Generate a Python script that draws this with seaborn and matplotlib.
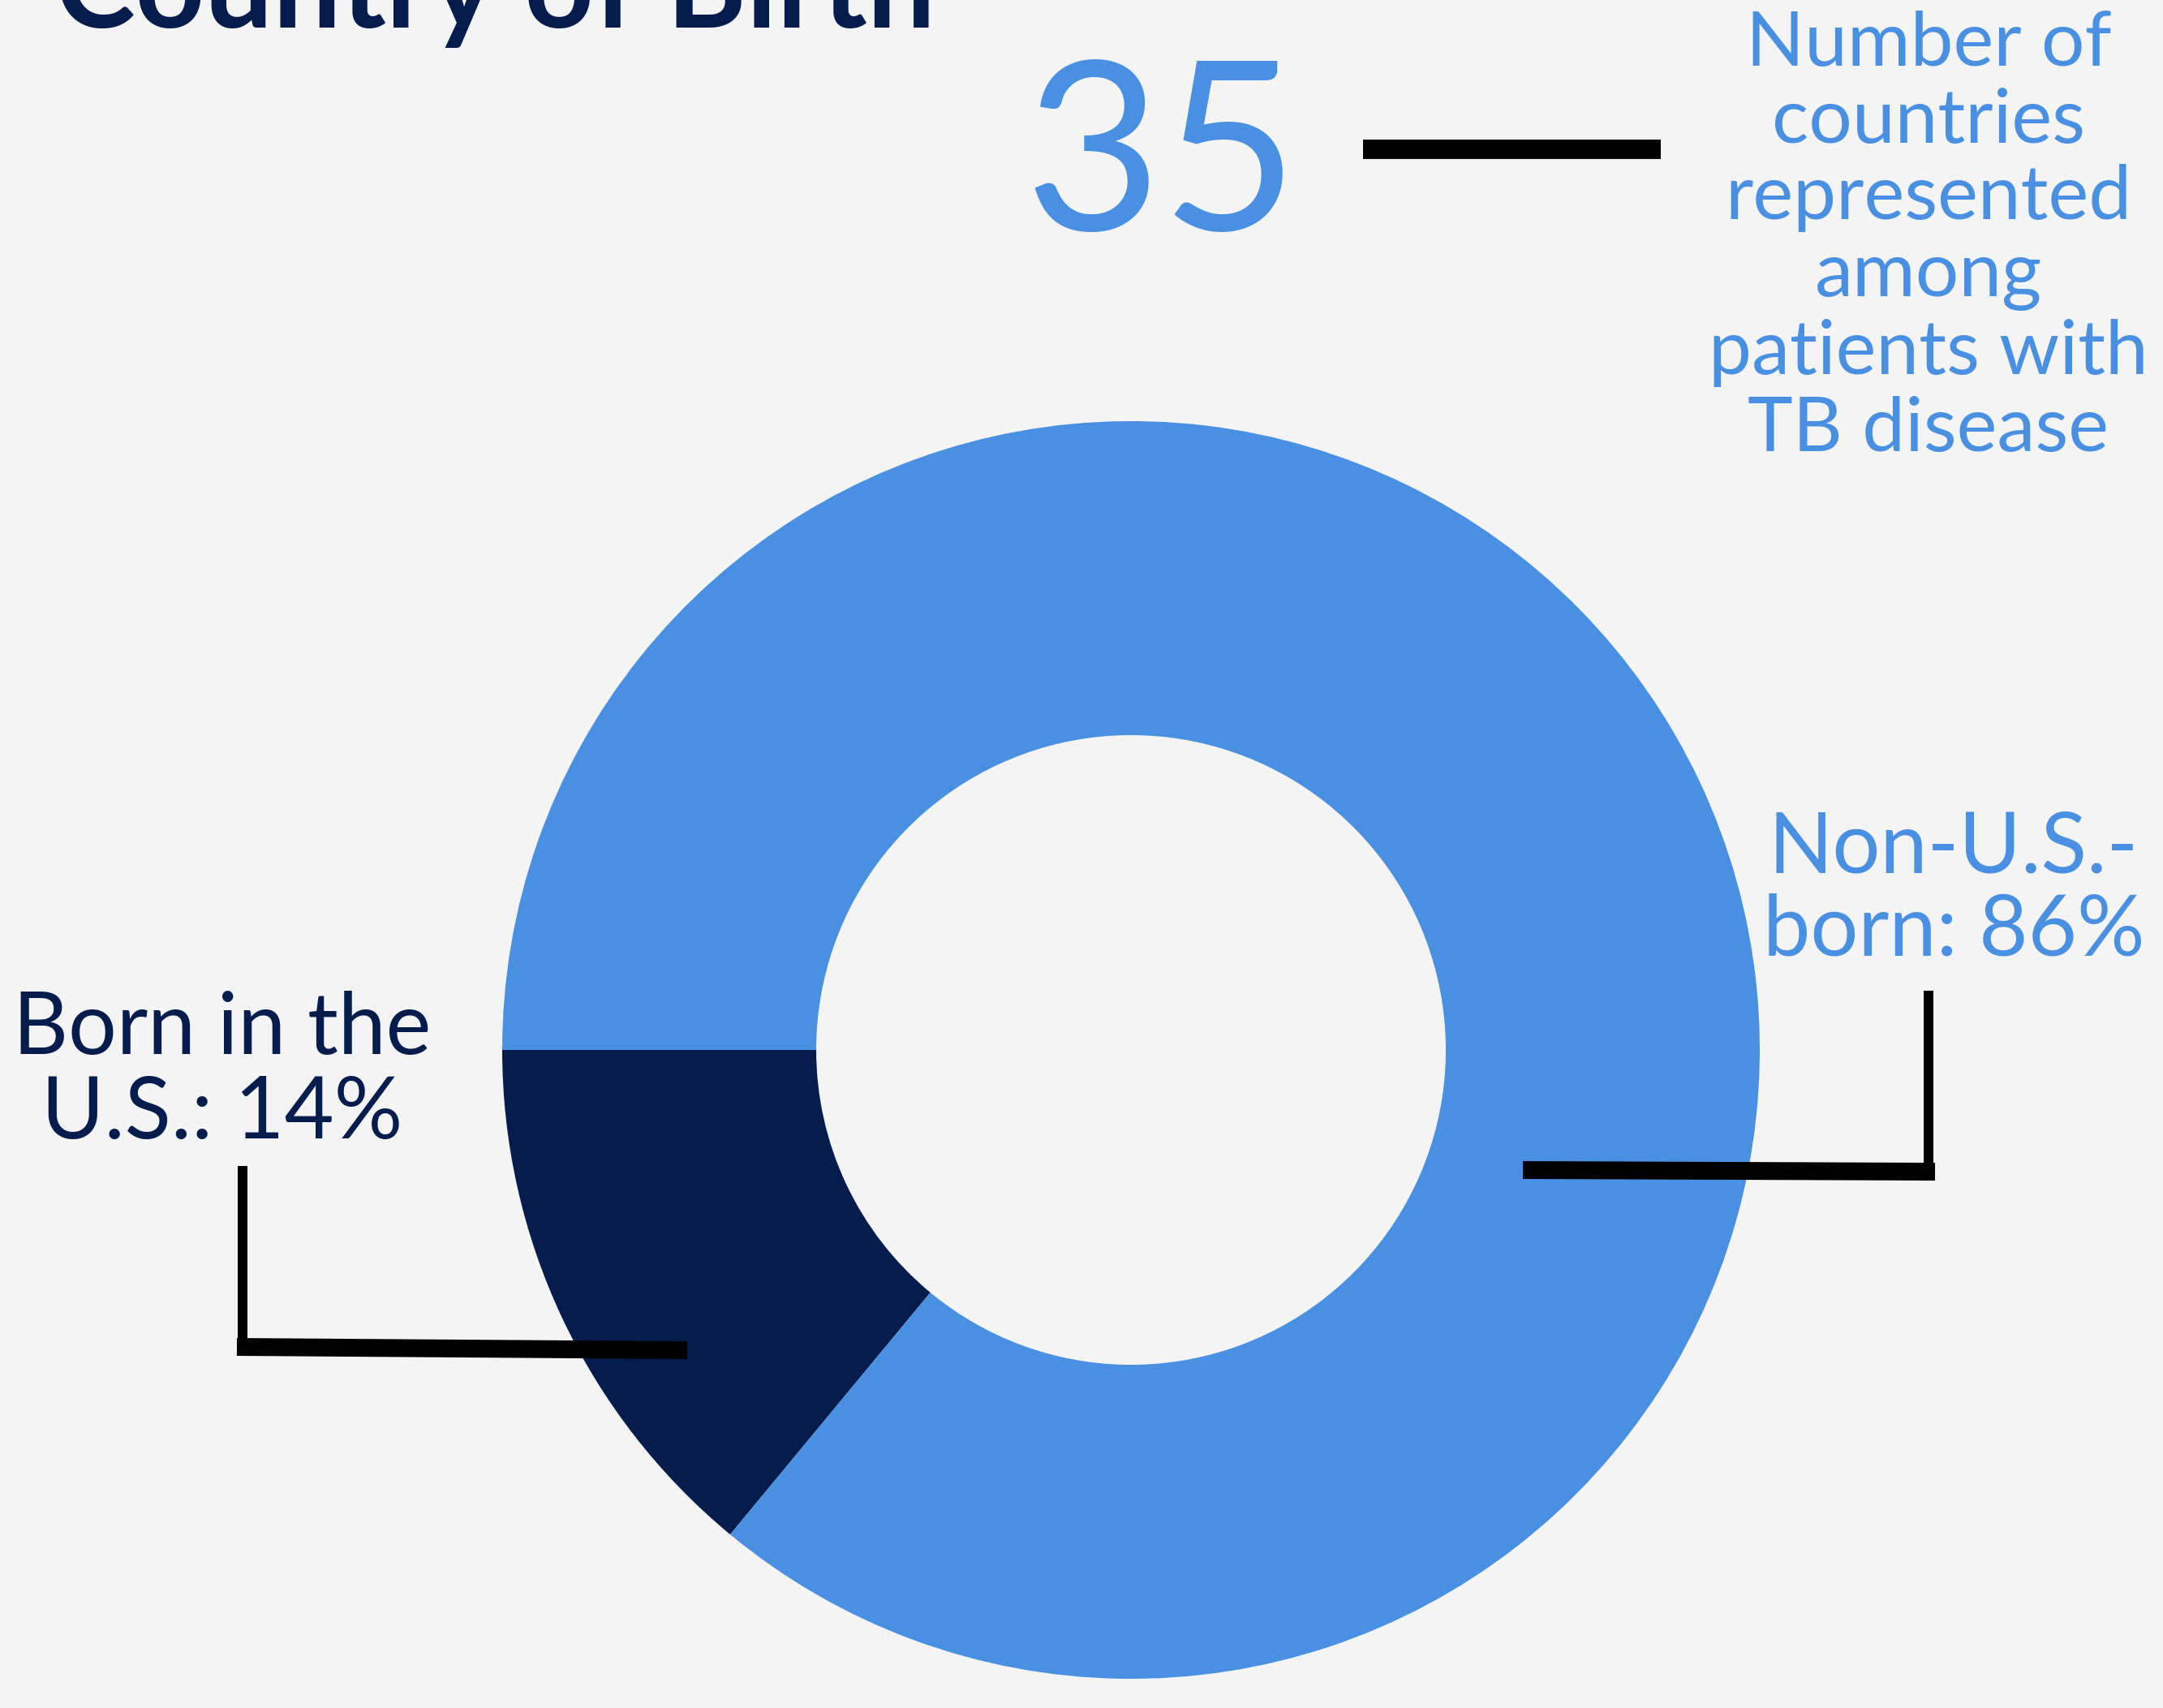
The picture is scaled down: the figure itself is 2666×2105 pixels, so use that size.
import matplotlib
matplotlib.use('Agg')
import matplotlib.pyplot as plt
import seaborn as sns

# Data
labels = ['Born in the\nU.S.: 14%', 'Non-U.S.-\nborn: 86%']
shares = [14, 86]
n_countries = 35
caption = 'Number of\ncountries\nrepresented\namong\npatients with\nTB disease'
title = 'Country of Birth'

BLUE = '#4A90E2'
NAVY = '#051C4C'
BG = '#F4F4F4'

sns.set_theme(style='white')
plt.rcParams['font.family'] = ['Lato', 'DejaVu Sans']

W, H = 2666, 2105
fig = plt.figure(figsize=(W / 200, H / 200), dpi=200, facecolor=BG)
ax = fig.add_axes([0, 0, 1, 1])
ax.set_facecolor(BG)

# Donut (pixel-like coordinates, y down)
ax.pie(shares, colors=[NAVY, BLUE], startangle=180, counterclock=False,
       center=(1394, 1294), radius=775,
       wedgeprops=dict(width=387, linewidth=0))

ax.set_xlim(0, W)
ax.set_ylim(H, 0)
ax.set_aspect('equal')
ax.axis('off')

# Title (cut off at top like the source)
ax.text(68, 34, title, fontsize=53.7, fontweight='bold', color=NAVY,
        ha='left', va='baseline')

# Big number with dash and caption
ax.text(1432, 284, str(n_countries), fontsize=105, fontweight='normal',
        color=BLUE, ha='center', va='baseline')
ax.plot([1680, 2047], [184, 184], color='black', lw=8.6, solid_capstyle='butt')
ax.text(2377, 556, caption, fontsize=34, color=BLUE, ha='center',
        va='baseline', linespacing=1.155)

# Slice labels
ax.text(274, 1403, labels[0], fontsize=38, color=NAVY, ha='center',
        va='baseline', linespacing=1.1)
ax.text(2408, 1178, labels[1], fontsize=37.5, color=BLUE, ha='center',
        va='baseline', linespacing=1.1)

# Leader lines
ax.plot([299, 299], [1437, 1671], color='black', lw=4.3, solid_capstyle='butt')
ax.plot([292, 847], [1660, 1664], color='black', lw=7.9, solid_capstyle='butt')
ax.plot([2377, 2377], [1221, 1455], color='black', lw=4.3, solid_capstyle='butt')
ax.plot([1877, 2385], [1442, 1444], color='black', lw=7.9, solid_capstyle='butt')

fig.savefig('out.png', dpi=200, facecolor=BG)
